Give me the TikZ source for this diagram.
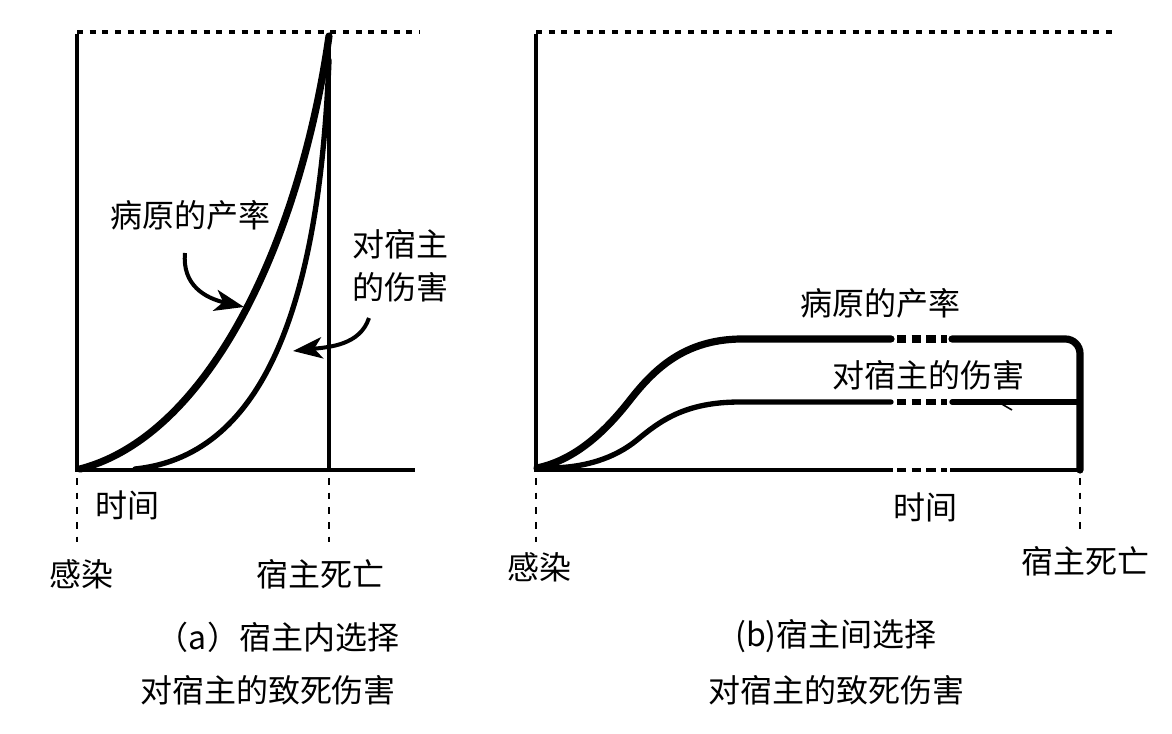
\documentclass[tikz,border=0pt]{standalone}
\usepackage{fontspec}
\newfontfamily\cjk{Noto Sans CJK SC}
\usetikzlibrary{arrows.meta}
\begin{document}
\begin{tikzpicture}[x=0.75pt,y=-0.75pt,
  axis/.style={line width=2.8pt},
  dotline/.style={line width=2.8pt,dash pattern=on 4.5pt off 5pt},
  dropline/.style={line width=2.2pt,dash pattern=on 5pt off 6pt},
  thickc/.style={line width=5.4pt,line cap=round},
  thinc/.style={line width=4pt,line cap=round},
  gapdash/.style={line cap=butt,dash pattern=on 7pt off 4pt},
  lbl/.style={font=\cjk\fontsize{24}{28}\selectfont,inner sep=0pt},
  pointer/.style={line width=3pt,-{Stealth[length=22pt,width=16pt,inset=6pt]}}]
\useasboundingbox (0,0) rectangle (1172,734);
% ---------- panel (a)
\draw[dotline] (77,32) -- (420,32);
\draw[axis] (77,34) -- (77,470) -- (415,470);
\draw[axis] (329,34) -- (329,470);
\draw[dropline] (77,478) -- (77,542);
\draw[dropline] (329,478) -- (329,542);
\draw[thickc] (80,469) .. controls (210,435) and (300,240) .. (329,36);
\draw[thinc] (135,469) .. controls (270,455) and (320,290) .. (329,60);
\node[lbl] (ya) at (190,215) {病原的产率};
\node[lbl,align=left] (da) at (400,266) {对宿主\\[4pt]的伤害};
\coordinate (ya1) at (185,253);
\coordinate (ya2) at (244,307);
\coordinate (da1) at (369,318);
\coordinate (da2) at (293,351);
\draw[pointer] (ya1) .. controls (182,285) and (205,298) .. (ya2);
\draw[pointer] (da1) .. controls (360,345) and (330,347) .. (da2);
\node[lbl] (ta) at (127,505) {时间};
\node[lbl] (ia) at (82,574) {感染};
\node[lbl] (ha) at (320,574) {宿主死亡};
\node[lbl] (ca) at (278,637) {（a）宿主内选择};
\node[lbl] (sa) at (268,690) {对宿主的致死伤害};
% ---------- panel (b)
\draw[dotline] (536,32) -- (1112,32);
\draw[axis] (536,34) -- (536,470) -- (893,470);
\draw[axis,gapdash] (897,470) -- (947,470);
\draw[axis] (950,470) -- (1080,470);
\draw[dropline] (536,478) -- (536,542);
\draw[dropline] (1080,478) -- (1080,532);
% pathogen yield
\draw[thickc] (537,468) .. controls (575,460) and (605,432) .. (630,400)
   .. controls (655,368) and (685,340) .. (740,339) -- (891,339);
\draw[thickc,gapdash] (897,339) -- (947,339);
\draw[thickc,rounded corners=11pt] (952,339) -- (1080,339) -- (1080,470);
% damage to host
\draw[thinc] (548,468) .. controls (585,468) and (615,458) .. (637,440)
   .. controls (660,421) and (685,402) .. (740,402) -- (891,402);
\draw[thinc,gapdash] (897,402) -- (947,402);
\draw[thinc] (952,402) -- (1080,402);
\coordinate (tk1) at (1000,403);
\coordinate (tk2) at (1012,410);
\draw[line width=1.2pt] (tk1) -- (tk2);
\node[lbl] (yb) at (880,303) {病原的产率};
\node[lbl] (db) at (928,375) {对宿主的伤害};
\node[lbl] (tb) at (925,507) {时间};
\node[lbl] (ib) at (539,567) {感染};
\node[lbl] (hb) at (1085,561) {宿主死亡};
\node[lbl] (cb) at (836,636) {(b)宿主间选择};
\node[lbl] (sb) at (836,690) {对宿主的致死伤害};
\end{tikzpicture}
\end{document}
